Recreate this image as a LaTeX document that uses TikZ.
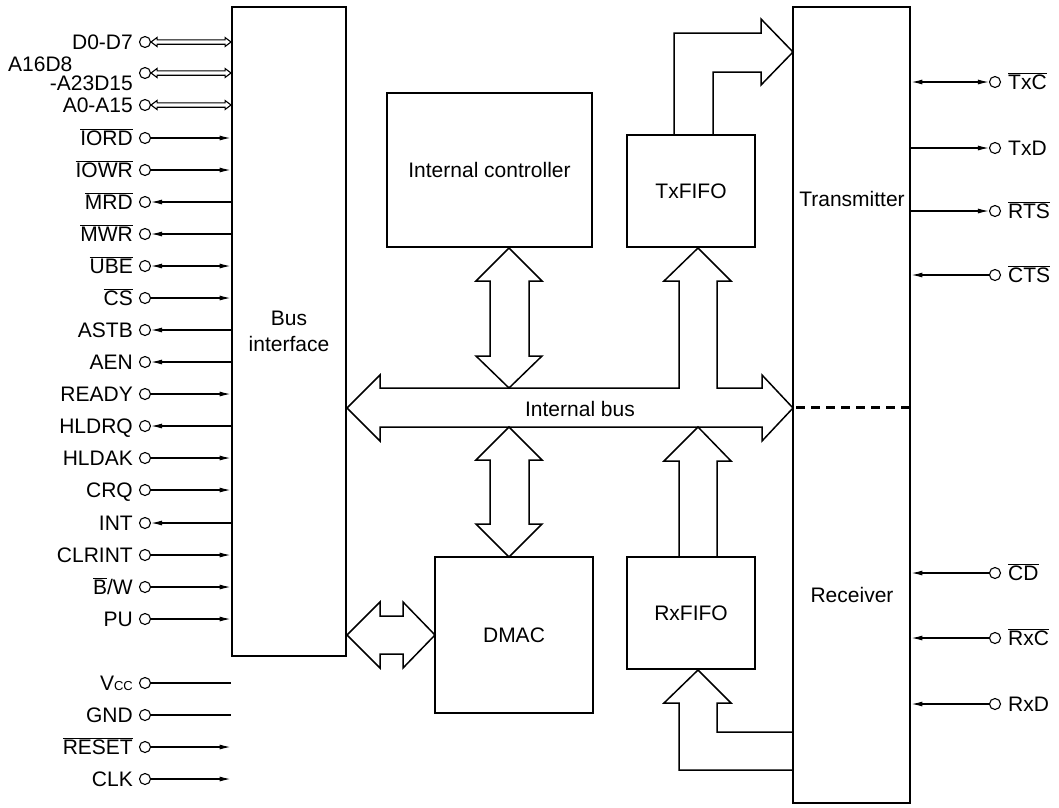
\documentclass[tikz,border=0pt]{standalone}
\usepackage{fontspec}
\setmainfont{Liberation Sans}
\usetikzlibrary{arrows.meta}
\newcommand{\olbar}[1]{\ensuremath{\overline{\mbox{#1}}}}
\begin{document}
\begin{tikzpicture}[x=1pt,y=-1pt,
  font=\fontsize{21}{26}\selectfont,
  >={Latex[length=11pt,width=5pt]},
  block/.style={draw, line width=2.8pt, inner sep=0pt, align=center},
  wire/.style={line width=1.2pt},
  pinc/.style={circle, draw, line width=1.1pt, minimum size=11pt, inner sep=0pt},
  hollow/.style={draw, line width=1.5pt, line join=miter},
  lbl/.style={inner sep=0pt}]
\useasboundingbox (0,0) rectangle (1059,807);

% ---------- blocks ----------
\node[block, minimum width=114pt, minimum height=649pt] (bi) at (289,331.5) {Bus\\interface};
\node[block, minimum width=205pt, minimum height=154pt] (ctrl) at (489.5,170) {Internal controller};
\node[block, minimum width=128pt, minimum height=112pt] (txf) at (691,191) {TxFIFO};
\node[block, minimum width=158pt, minimum height=156pt] (dmac) at (514,635) {DMAC};
\node[block, minimum width=128pt, minimum height=112pt] (rxf) at (691,613) {RxFIFO};
\node[block, minimum width=117pt, minimum height=796pt] (trx) at (851.5,405) {};
\node[lbl, anchor=base] (ttx) at (852,206) {Transmitter};
\node[lbl, anchor=base] (trc) at (852,602) {Receiver};
\draw[line width=3pt, dash pattern=on 9pt off 6pt] (796,407) -- (909,407);

% ---------- left pins ----------
\foreach \n/\y/\t in {D0/42/D0-D7, A0/105/A0-A15, IORD/138/\olbar{IORD}, IOWR/170/\olbar{IOWR},
  MRD/202/\olbar{MRD}, MWR/234/\olbar{MWR}, UBE/266/\olbar{UBE}, CS/298/\olbar{CS},
  ASTB/330/ASTB, AEN/362/AEN, READY/394/READY, HLDRQ/426/HLDRQ, HLDAK/458/HLDAK,
  CRQ/490/CRQ, INT/523/INT, CLRINT/555/CLRINT, PU/619/PU,
  GND/715/GND, RESET/747/\olbar{RESET}, CLK/779/CLK}{
  \node[pinc] (p\n) at (145,\y) {};
  \node[lbl, anchor=base east] (l\n) at (133,\y+7.4) {\t};
}
\node[pinc] (pBW) at (145,587) {};
\node[lbl, anchor=base east] (lBW) at (133,594.4) {\olbar{B}/W};
\node[pinc] (pA16) at (145,73) {};
\node[lbl, anchor=base west] (lA16a) at (8,71) {A16D8};
\node[lbl, anchor=base east] (lA16b) at (133,90) {-A23D15};
\node[pinc] (pVCC) at (145,683) {};
\node[lbl, anchor=base east] (lVCC) at (133,690.4) {V{\fontsize{13}{13}\selectfont CC}};

\foreach \n in {D0,A16,A0}
  \draw[hollow, line width=1.1pt] (p\n.east) -- ++(6,-4.5) -- ++(0,2.3) -- ++(68,0) -- ++(0,-2.3)
     -- ++(6,4.5) -- ++(-6,4.5) -- ++(0,-2.3) -- ++(-68,0) -- ++(0,2.3) -- cycle;
\foreach \n in {IORD,IOWR,CS,READY,HLDAK,CRQ,CLRINT,BW,PU,RESET,CLK}
  \draw[wire,->] (p\n) -- (bi.west |- p\n);
\foreach \n in {MRD,MWR,ASTB,AEN,HLDRQ,INT}
  \draw[wire,<-] (p\n) -- (bi.west |- p\n);
\draw[wire,<->] (pUBE) -- (bi.west |- pUBE);
\foreach \n in {VCC,GND}
  \draw[wire] (p\n) -- (bi.west |- p\n);

% ---------- right pins ----------
\foreach \n/\y/\t in {TxC/82/\olbar{TxC}, TxD/148/TxD, RTS/211/\olbar{RTS}, CTS/275/\olbar{CTS},
  CD/573/\olbar{CD}, RxC/638/\olbar{RxC}, RxD/704/RxD}{
  \node[pinc] (q\n) at (995,\y) {};
  \node[lbl, anchor=base west] (m\n) at (1008,\y+7.4) {\t};
}
\draw[wire,<->] (trx.east |- qTxC) -- (qTxC);
\foreach \n in {TxD,RTS}
  \draw[wire,->] (trx.east |- q\n) -- (q\n);
\foreach \n in {CTS,CD,RxC,RxD}
  \draw[wire,<-] (trx.east |- q\n) -- (q\n);

% ---------- internal bus and hollow arrows ----------
\draw[hollow] (347,408) -- (380,375) -- (380,388) -- (679,388) -- (679,281) -- (664,281)
  -- (698,248) -- (731,281) -- (717,281) -- (717,388) -- (762,388) -- (762,375)
  -- (793,408) -- (762,441) -- (762,427) -- (380,427) -- (380,441) -- cycle;
\node[lbl, anchor=base] (ibus) at (580,416) {Internal bus};

\draw[hollow] (509,248) -- (542,281) -- (529,281) -- (529,356) -- (542,356) -- (509,388)
  -- (476,356) -- (490,356) -- (490,281) -- (476,281) -- cycle;
\draw[hollow] (509,427) -- (542,460) -- (529,460) -- (529,524) -- (542,524) -- (509,557)
  -- (476,524) -- (490,524) -- (490,460) -- (476,460) -- cycle;
\draw[hollow] (679,557) -- (679,461) -- (664,461) -- (698,427) -- (731,461) -- (717,461) -- (717,557);
\draw[hollow] (347,635) -- (380,602) -- (380,616) -- (403,616) -- (403,602) -- (435,635)
  -- (403,668) -- (403,654) -- (380,654) -- (380,668) -- cycle;
\draw[hollow] (674,135) -- (674,33) -- (761,33) -- (761,19) -- (793,52) -- (761,85)
  -- (761,72) -- (713,72) -- (713,135);
\draw[hollow] (793,770) -- (679,770) -- (679,703) -- (664,703) -- (698,670) -- (731,703)
  -- (717,703) -- (717,732) -- (793,732);
\end{tikzpicture}
\end{document}
